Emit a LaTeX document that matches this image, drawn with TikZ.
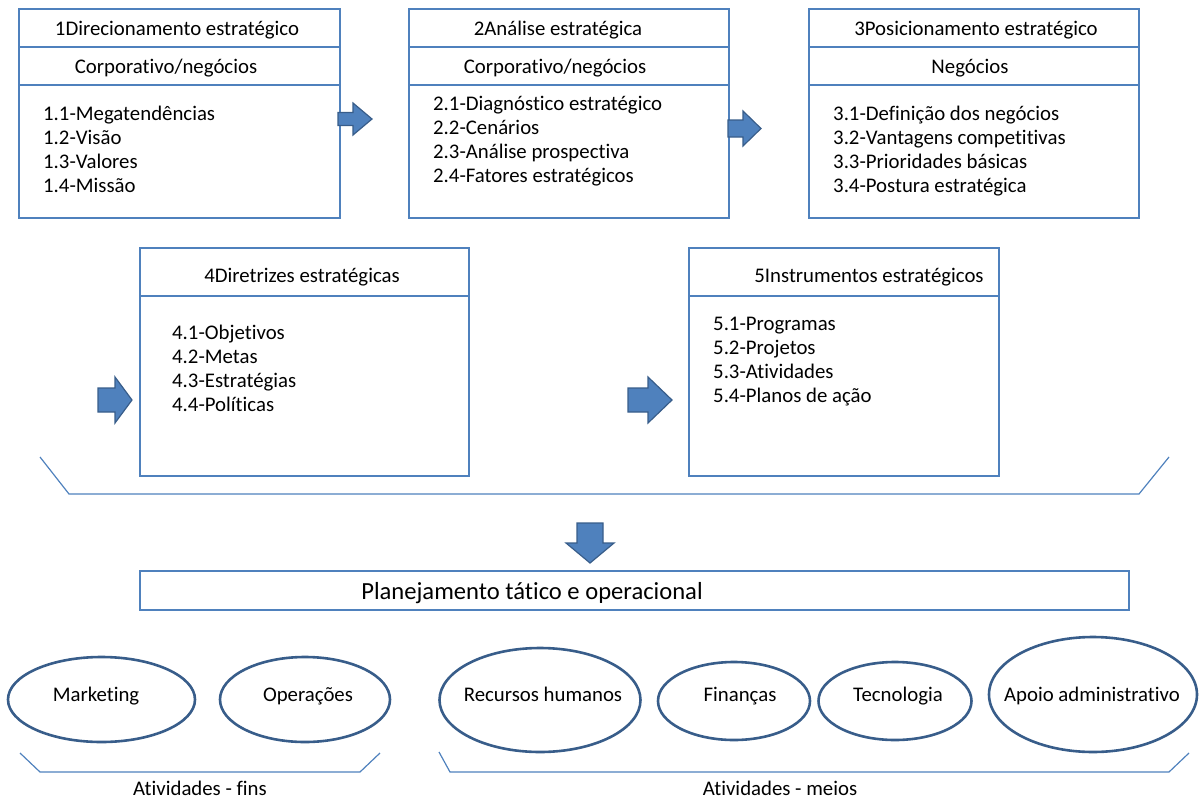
\documentclass[tikz,border=0pt]{standalone}
\usepackage{fontspec}
\setmainfont{Carlito}[Ligatures=NoCommon]
\usetikzlibrary{shapes.geometric}
\definecolor{boxblue}{RGB}{79,129,189}
\definecolor{darkblue}{RGB}{56,93,138}
\definecolor{arrowblue}{RGB}{79,129,189}

\begin{document}
\begin{tikzpicture}[x=1pt,y=-1pt,
  panel/.style={draw=boxblue, line width=1.3pt, rectangle, anchor=north west, inner sep=0pt, outer sep=0pt},
  divider/.style={draw=boxblue, line width=1.3pt},
  txt/.style={font=\fontsize{20.8}{24}\selectfont, inner sep=0pt, anchor=base},
  ltxt/.style={txt, anchor=base west},
  bigtxt/.style={font=\fontsize{24.6}{28}\selectfont, inner sep=0pt, anchor=base},
  oval/.style={ellipse, draw=darkblue, line width=2.6pt, inner sep=0pt},
  bracket/.style={draw=boxblue, line width=1.2pt},
  blockarrow/.style={fill=arrowblue, draw=darkblue, line width=1.2pt, line join=miter}
]
\useasboundingbox (0,0) rectangle (1200,798);

% ---- top row: strategic stages ----
\node[panel, minimum width=321pt, minimum height=209pt] (b1) at (19,9) {};
\node[panel, minimum width=320pt, minimum height=209pt] (b2) at (409,9) {};
\node[panel, minimum width=330pt, minimum height=209pt] (b3) at (809,9) {};
\foreach \b in {b1,b2,b3} {
  \draw[divider] (\b.west |- 0,47) -- (\b.east |- 0,47);
  \draw[divider] (\b.west |- 0,85) -- (\b.east |- 0,85);
}

\node[txt] (t1) at (177,35) {1Direcionamento estratégico};
\node[txt] (s1) at (166,73) {Corporativo/negócios};
\foreach \t [count=\i] in {1.1-Megatendências,1.2-Visão,1.3-Valores,1.4-Missão}
  \node[ltxt] (b1l\i) at (43,{120+24*(\i-1)}) {\t};

\node[txt] (t2) at (558,35) {2Análise estratégica};
\node[txt] (s2) at (555,73) {Corporativo/negócios};
\foreach \t [count=\i] in {2.1-Diagnóstico estratégico,2.2-Cenários,2.3-Análise prospectiva,2.4-Fatores estratégicos}
  \node[ltxt] (b2l\i) at (433,{110+24*(\i-1)}) {\t};

\node[txt] (t3) at (976,35) {3Posicionamento estratégico};
\node[txt] (s3) at (970,73) {Negócios};
\foreach \t [count=\i] in {3.1-Definição dos negócios,3.2-Vantagens competitivas,3.3-Prioridades básicas,3.4-Postura estratégica}
  \node[ltxt] (b3l\i) at (833,{120+24*(\i-1)}) {\t};

% ---- second row ----
\node[panel, minimum width=329pt, minimum height=228pt] (b4) at (140,248) {};
\node[panel, minimum width=310pt, minimum height=228pt] (b5) at (689,248) {};
\foreach \b in {b4,b5}
  \draw[divider] (\b.west |- 0,296) -- (\b.east |- 0,296);

\node[txt] (t4) at (302,282) {4Diretrizes estratégicas};
\foreach \t [count=\i] in {4.1-Objetivos,4.2-Metas,4.3-Estratégias,4.4-Políticas}
  \node[ltxt] (b4l\i) at (172,{339+24*(\i-1)}) {\t};

\node[txt] (t5) at (869,282) {5Instrumentos estratégicos};
\foreach \t [count=\i] in {5.1-Programas,5.2-Projetos,5.3-Atividades,5.4-Planos de ação}
  \node[ltxt] (b5l\i) at (713,{330+24*(\i-1)}) {\t};

% ---- block arrows ----
\draw[blockarrow] (338,112.5) -- (353,112.5) -- (353,103) -- (372,119) -- (353,135) -- (353,125.5) -- (338,125.5) -- cycle;
\draw[blockarrow] (728,120) -- (743,120) -- (743,111) -- (761,128.5) -- (743,146) -- (743,137) -- (728,137) -- cycle;
\draw[blockarrow] (98,388) -- (115,388) -- (115,377) -- (132,400) -- (115,423) -- (115,412) -- (98,412) -- cycle;
\draw[blockarrow] (628,388) -- (648,388) -- (648,377) -- (672,400) -- (648,423) -- (648,412) -- (628,412) -- cycle;
\draw[blockarrow] (577,523) -- (603,523) -- (603,543) -- (614,543) -- (590,563) -- (566,543) -- (577,543) -- cycle;

% ---- grouping bracket under the strategic stages ----
\draw[bracket] (40,457) -- (69,494) -- (1139,494) -- (1169,457);

% ---- tactical/operational planning ----
\node[panel, minimum width=989pt, minimum height=39pt] (plan) at (140,571) {};
\node[bigtxt] (plant) at (532,599) {Planejamento tático e operacional};

% ---- functional areas ----
\node[oval, minimum width=187pt, minimum height=85pt] (mkt) at (101.5,699.5) {};
\node[oval, minimum width=170pt, minimum height=85pt] (ops) at (305,699.5) {};
\node[oval, minimum width=201pt, minimum height=104pt] (rh) at (540,700) {};
\node[oval, minimum width=152pt, minimum height=78pt] (fin) at (734,701) {};
\node[oval, minimum width=153pt, minimum height=78pt] (tec) at (895,701) {};
\node[oval, minimum width=208pt, minimum height=115pt] (apo) at (1093,694.5) {};

\node[txt] (mktt) at (96,701) {Marketing};
\node[txt] (opst) at (308,701) {Operações};
\node[txt] (rht) at (543,701) {Recursos humanos};
\node[txt] (fint) at (740,701) {Finanças};
\node[txt] (tect) at (898,701) {Tecnologia};
\node[txt] (apot) at (1092,701) {Apoio administrativo};

% ---- activity groups ----
\draw[bracket] (20,753) -- (40,772) -- (360,772) -- (380,753);
\draw[bracket] (439,752) -- (450,772) -- (1169,772) -- (1189,753);
\node[txt] (fins) at (200,795) {Atividades - fins};
\node[txt] (meios) at (780,795) {Atividades - meios};

\end{tikzpicture}
\end{document}
